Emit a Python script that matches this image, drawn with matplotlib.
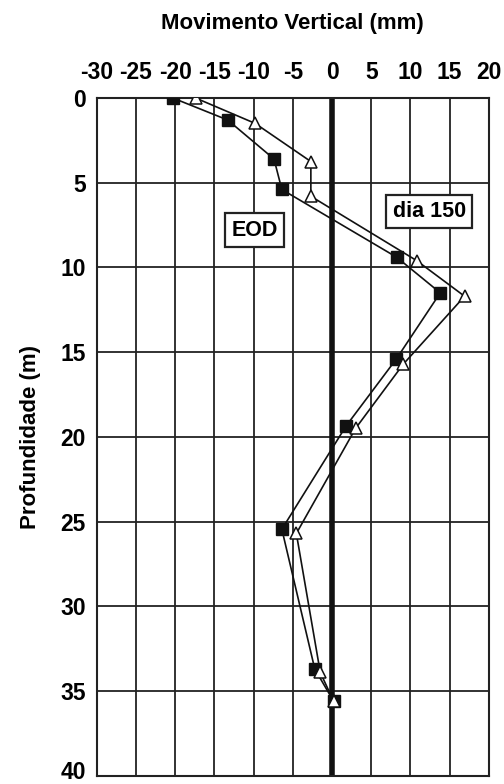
import matplotlib
matplotlib.use("Agg")
import matplotlib.pyplot as plt
import matplotlib.transforms as mtrans

plt.rcParams['font.family'] = ['Liberation Sans', 'DejaVu Sans']
plt.rcParams['font.weight'] = 'bold'
plt.rcParams['axes.unicode_minus'] = False

# EOD (quadrados)
eod_x = [-20.3, -13.3, -7.4, -6.4, 8.25, 13.8, 8.2, 1.8, -6.4, -2.2, 0.2]
eod_y = [0.0, 1.3, 3.6, 5.4, 9.4, 11.5, 15.4, 19.35, 25.45, 33.7, 35.6]

# dia 150 (triangulos)
d150_x = [-17.4, -9.8, -2.7, -2.7, 10.8, 16.9, 9.1, 3.0, -4.55, -1.5, 0.2]
d150_y = [0.0, 1.5, 3.75, 5.8, 9.6, 11.7, 15.7, 19.5, 25.7, 33.9, 35.6]

xticks = [-30, -25, -20, -15, -10, -5, 0, 5, 10, 15, 20]
yticks = [0, 5, 10, 15, 20, 25, 30, 35, 40]

fs = 16.5

fig = plt.figure(figsize=(5.04, 7.84), dpi=100)
ax = fig.add_axes([0.192, 0.0105, 0.778, 0.8645])

ax.set_xlim(-30, 20)
ax.set_ylim(40, 0)
ax.set_xticks(xticks)
ax.set_yticks(yticks)
ax.xaxis.tick_top()
ax.xaxis.set_label_position('top')
ax.tick_params(axis='x', length=0, labelsize=fs, pad=10)
ax.tick_params(axis='y', length=0, labelsize=fs, pad=8)
for lab in ax.get_xticklabels() + ax.get_yticklabels():
    lab.set_fontweight('bold')
# nudge the last depth label so it stays inside the picture
last = ax.get_yticklabels()[-1]
last.set_transform(last.get_transform() + mtrans.ScaledTranslation(0, 4 / 72, fig.dpi_scale_trans))

ax.grid(True, color='#222222', lw=1.3)
ax.set_axisbelow(True)
for s in ax.spines.values():
    s.set_linewidth(1.5)
    s.set_color('#222222')
ax.axvline(0, color='#111111', lw=4, zorder=1.5)

ax.plot(eod_x, eod_y, color='#111111', lw=1.2, marker='s', ms=8.5,
        mfc='#111111', mec='#111111', zorder=3)
ax.plot(d150_x, d150_y, color='#111111', lw=1.2, marker='^', ms=9,
        mfc='white', mec='#111111', mew=1.1, zorder=4)

box = dict(boxstyle='square,pad=0.3', fc='white', ec='#222222', lw=1.6)
ax.text(-9.9, 7.8, 'EOD', fontsize=15.5, fontweight='bold', ha='center', va='center', bbox=box, zorder=5)
ax.text(12.4, 6.7, 'dia 150', fontsize=15.5, fontweight='bold', ha='center', va='center', bbox=box, zorder=5)

ax.set_xlabel('Movimento Vertical (mm)', fontsize=16, fontweight='bold', labelpad=23)
ax.set_ylabel('Profundidade (m)', fontsize=16, fontweight='bold', labelpad=14)

fig.savefig('out.png', dpi=100)
